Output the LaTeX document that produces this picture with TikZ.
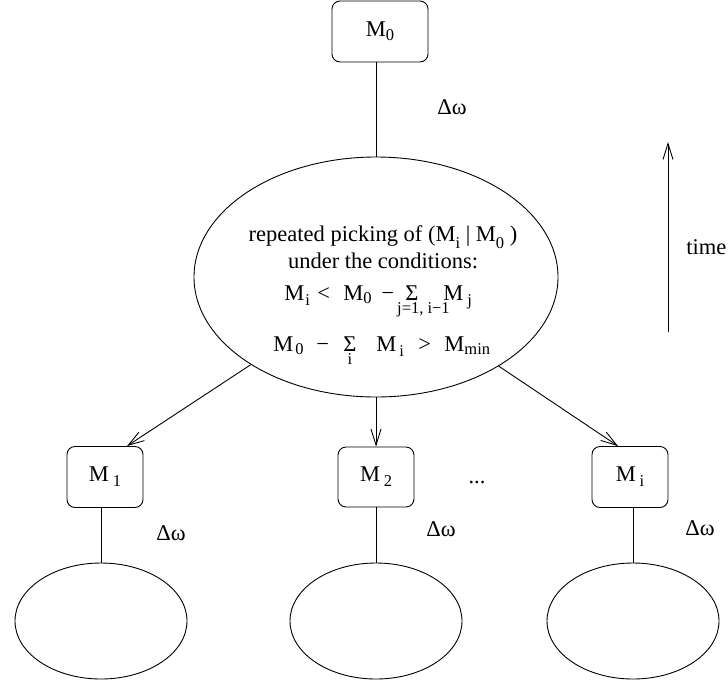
\documentclass[tikz,border=0pt]{standalone}
\usepackage{fontspec}
\setmainfont{Liberation Serif}
\usetikzlibrary{shapes.geometric,arrows.meta}
\newcommand\subf{\fontsize{16.5}{17}\selectfont}
\newcommand\lo[2][5pt]{\raisebox{-#1}{\subf #2}}
\newcommand\pc[2]{\rlap{\hspace*{#1}#2}}
\newcommand\under[1]{\makebox[0pt]{\raisebox{-13pt}{\subf #1}}}
\begin{document}
\begin{tikzpicture}[x=1pt,y=-1pt, line width=0.9pt,
  txt/.style={font=\fontsize{22.5}{26}\selectfont, inner sep=0pt},
  box/.style={draw, rounded corners=8pt, minimum width=76pt, minimum height=61pt, inner sep=0pt, font=\fontsize{22.5}{26}\selectfont},
  oval/.style={draw, ellipse, inner sep=0pt},
  arr/.style={-{Straight Barb[length=16pt,width=10pt]}}]
\useasboundingbox (0,0) rectangle (728,686);

% top
\node[box, minimum width=96pt] (M0) at (380,31.5) {M\lo[4pt]{0}};
\node[txt] (dw0) at (452,107) {Δω};
\node[oval, minimum width=364pt, minimum height=240pt] (big) at (376,277) {};
\draw (big.north) -- (big.north |- M0.south);

% text in the big ellipse
\node[txt, anchor=base] (t1) at (383,241) {repeated picking of (M\lo[7pt]{i} | M\lo[7pt]{0} )};
\node[txt, anchor=base] (t2) at (383,268) {under the conditions:};
\node[txt, anchor=base west] (t3) at (284,300) {\pc{0pt}{M}\pc{21pt}{\lo{i}}\pc{33pt}{<}\pc{59pt}{M}\pc{79pt}{\lo[3pt]{0}}\pc{97pt}{−}\pc{121pt}{Σ}\pc{139pt}{\under{j=1, i−1}}\pc{159pt}{M}\pc{183pt}{\lo{j}}\hspace*{190pt}};
\node[txt, anchor=base west] (t4) at (273,351) {\pc{0pt}{M}\pc{22pt}{\lo[3pt]{0}}\pc{43pt}{−}\pc{70pt}{Σ}\pc{76.5pt}{\under{i}}\pc{103pt}{M}\pc{126pt}{\lo{i}}\pc{145pt}{>}\pc{171pt}{M}\pc{191pt}{\lo[3pt]{min}}\hspace*{220pt}};

% children
\node[box] (M1) at (105,477) {M\,\lo{1}};
\node[box, minimum height=60pt] (M2) at (376,477) {M\,\lo{2}};
\node[box] (Mi) at (630,477) {M\,\lo{i}};
\node[txt] (dots) at (477,482) {...};

\draw[arr] (big.215.6) -- ([xshift=22pt]M1.north);
\draw[arr] (big.south) -- (M2.north);
\draw[arr] (big.324.3) -- ([xshift=-12pt]Mi.north);

% bottom ellipses
\node[oval, minimum width=172pt, minimum height=116pt] (e1) at (101,621) {};
\node[oval, minimum width=172pt, minimum height=116pt] (e2) at (376,621) {};
\node[oval, minimum width=172pt, minimum height=116pt] (e3) at (633,621) {};
\draw (e1.north) -- (e1.north |- M1.south);
\draw (e2.north) -- (e2.north |- M2.south);
\draw (e3.north) -- (e3.north |- Mi.south);

\node[txt] (dw1) at (171,533) {Δω};
\node[txt] (dw2) at (441,529) {Δω};
\node[txt] (dw3) at (700,528) {Δω};

% time arrow
\coordinate (tb) at (668,332);
\coordinate (tt) at (668,142);
\draw[arr] (tb) -- (tt);
\node[txt, anchor=west] (time) at (686,247) {time};
\end{tikzpicture}
\end{document}
